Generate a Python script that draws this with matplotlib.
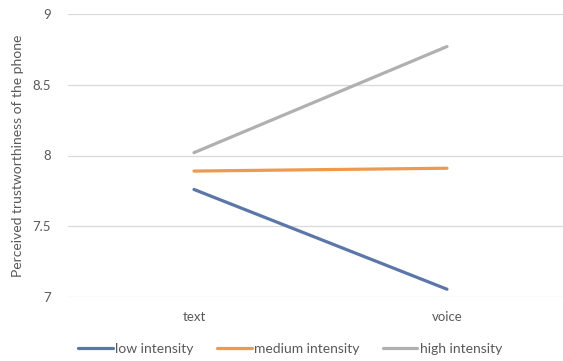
import matplotlib
matplotlib.use("Agg")
import matplotlib.pyplot as plt

# mean trustworthiness by modality and intensity
modality = ["text", "voice"]
low_intensity = [7.76, 7.055]
medium_intensity = [7.89, 7.91]
high_intensity = [8.02, 8.77]

series = [
    ("low intensity", low_intensity, "#5B76A8"),
    ("medium intensity", medium_intensity, "#ED9A4F"),
    ("high intensity", high_intensity, "#B0B0B0"),
]

plt.rcParams["font.family"] = ["Lato", "DejaVu Sans"]
text_color = "#595959"

fig = plt.figure(figsize=(5.63, 3.61), dpi=100)
ax = fig.add_axes([67.5 / 563, 1 - 297 / 361, 506 / 563, 283 / 361])

for name, vals, col in series:
    ax.plot(range(len(modality)), vals, color=col, lw=2.3, label=name,
            solid_capstyle="round")

ax.set_xlim(-0.5, 1.5)
ax.set_ylim(7, 9)
ax.set_yticks([7, 7.5, 8, 8.5, 9])
ax.set_yticklabels(["7", "7.5", "8", "8.5", "9"])
ax.set_xticks(range(len(modality)))
ax.set_xticklabels(modality)
ax.grid(axis="y", color="#D9D9D9", lw=0.9)
ax.set_axisbelow(True)
for s in ax.spines.values():
    s.set_visible(False)
ax.tick_params(length=0, colors=text_color, labelsize=9.5)
ax.tick_params(axis="x", pad=10)
ax.tick_params(axis="y", pad=12)
ax.set_ylabel("Perceived trustworthiness of the phone", color=text_color,
              fontsize=10, labelpad=6)

leg = fig.legend(loc="center", bbox_to_anchor=(0.515, 1 - 349 / 361), ncol=3,
                 frameon=False, fontsize=10, handlelength=2.5,
                 handletextpad=0.15, columnspacing=1.7)
for t in leg.get_texts():
    t.set_color(text_color)

fig.savefig("out.png", dpi=100)
